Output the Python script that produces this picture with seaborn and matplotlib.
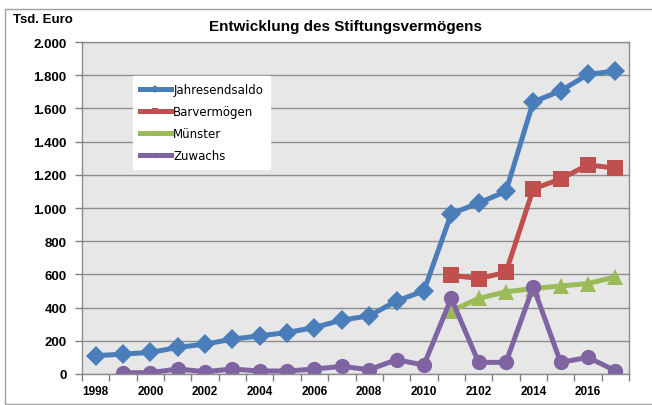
import numpy as np
import pandas as pd
import matplotlib.pyplot as plt
import seaborn as sns
from matplotlib.patches import Rectangle

years = list(range(1998, 2018))
xlabels = ['1998', '2000', '2002', '2004', '2006', '2008', '2010', '2102', '2014', '2016']
nan = np.nan

jahresendsaldo = [110, 120, 130, 160, 180, 210, 230, 250, 280, 325,
                  350, 440, 500, 965, 1030, 1100, 1640, 1705, 1805, 1825]
barvermoegen = [nan] * 13 + [595, 575, 612, 1115, 1175, 1260, 1240]
muenster = [nan] * 13 + [380, 455, 495, 515, 530, 545, 585]
zuwachs = [nan, 8, 8, 30, 14, 30, 18, 18, 30, 46,
           26, 86, 54, 456, 70, 70, 526, 70, 100, 20]

series = {'Jahresendsaldo': jahresendsaldo, 'Barvermögen': barvermoegen,
          'Münster': muenster, 'Zuwachs': zuwachs}

rows = []
for name, vals in series.items():
    for y, v in zip(years, vals):
        rows.append({'Jahr': y, 'Wert': v, 'Reihe': name})
df = pd.DataFrame(rows).dropna()

colors = {'Jahresendsaldo': '#4A7EBB', 'Barvermögen': '#C0504D',
          'Münster': '#9BBB59', 'Zuwachs': '#8064A2'}
markers = {'Jahresendsaldo': 'D', 'Barvermögen': 's',
           'Münster': '^', 'Zuwachs': 'o'}
msize = {'Jahresendsaldo': 10.5, 'Barvermögen': 12, 'Münster': 12, 'Zuwachs': 11}

bold = ['Liberation Sans Narrow', 'Liberation Sans', 'DejaVu Sans']

fig = plt.figure(figsize=(6.52, 4.06), dpi=100)
ax = fig.add_axes([82 / 652, 1 - 375 / 406, 547 / 652, 332 / 406])
ax.set_facecolor('#E7E7E7')

for name in series:
    sub = df[df['Reihe'] == name]
    sns.lineplot(data=sub, x='Jahr', y='Wert', ax=ax, color=colors[name],
                 marker=markers[name], markersize=msize[name],
                 markeredgewidth=0, linewidth=3.6, label=name)

ax.set_xlim(1997.5, 2017.5)
ax.set_ylim(0, 2000)
ax.set_yticks(range(0, 2001, 200))
ax.set_yticklabels([f'{v:,}'.replace(',', '.') for v in range(0, 2001, 200)],
                   fontfamily=bold, fontweight='bold', fontsize=9.5)
ax.set_xticks(years[::2])
ax.set_xticklabels(xlabels, fontfamily=bold, fontweight='bold', fontsize=8.5)
ax.set_xticks(np.arange(1997.5, 2018, 1), minor=True)
ax.tick_params(axis='x', which='major', length=0, pad=8)
ax.tick_params(axis='x', which='minor', length=5, color='#808080', width=1)
ax.tick_params(axis='y', length=5, color='#808080', width=1, pad=6)
ax.grid(axis='y', color='#8C8C8C', linewidth=1)
ax.set_axisbelow(True)
for s in ax.spines.values():
    s.set_color('#8C8C8C')
    s.set_linewidth(1)
ax.set_xlabel('')
ax.set_ylabel('')

leg = ax.legend(loc='upper left', bbox_to_anchor=(51 / 547, 1 - 34 / 332),
                markerscale=0.35, handlelength=2.6, fontsize=8.5,
                frameon=True, fancybox=False, borderpad=0.6,
                labelspacing=0.75, handletextpad=0.2, borderaxespad=0)
leg.get_frame().set_edgecolor('white')
leg.get_frame().set_facecolor('white')
leg.get_frame().set_alpha(1)

fig.text(345 / 652, 1 - 27 / 406, 'Entwicklung des Stiftungsvermögens',
         ha='center', va='center', fontsize=11, fontweight='bold', fontfamily=bold)
fig.text(13 / 652, 1 - 20 / 406, 'Tsd. Euro', ha='left', va='center',
         fontsize=9.5, fontweight='bold', fontfamily=bold)

fig.patches.append(Rectangle((5 / 652, 1 - 405 / 406), 1.0, 395 / 406,
                             transform=fig.transFigure, fill=False,
                             edgecolor='#A0A0A0', linewidth=1))

fig.savefig('out.png', dpi=100)
